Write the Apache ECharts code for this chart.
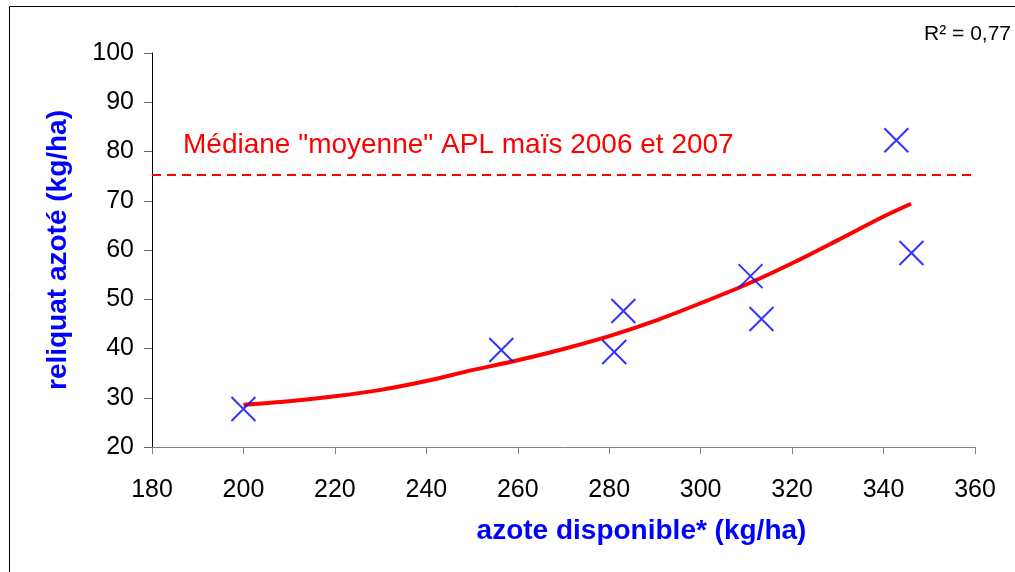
<!DOCTYPE html>
<html>
<head>
<meta charset="utf-8">
<script src="https://cdn.jsdelivr.net/npm/echarts@6/dist/echarts.min.js"></script>
<style>
  html, body { margin: 0; padding: 0; background: #fff; }
  #chart { width: 1015px; height: 572px; }
</style>
</head>
<body>
<div id="chart"></div>
<script>
  // mesures (azote disponible, reliquat)
  const azoteDisponible = [200, 256.4, 281.1, 283.1, 310.9, 313.3, 342.8, 346.1];
  const reliquat = [27.7, 39.7, 39.3, 47.6, 54.7, 46.0, 82.3, 59.4];

  // courbe de tendance
  const trendX = [200, 210, 220, 230, 240, 250, 260, 270, 280, 290, 300, 310, 320, 330, 340, 346];
  const trendY = [28.6, 29.3, 30.3, 31.6, 33.4, 35.6, 37.6, 39.9, 42.5, 45.6, 49.2, 53.0, 57.3, 62.0, 66.8, 69.4];

  const medianeAPL = 75.2;
  const medianeLabel = 'Médiane "moyenne" APL maïs 2006 et 2007';
  const r2Label = 'R² = 0,77';

  const chart = echarts.init(document.getElementById('chart'));
  window.addEventListener('resize', function () {
    chart.resize();
  });

  const font = 'Liberation Sans, Arial, sans-serif';

  const option = {
    animation: false,
    grid: { left: 152, right: 40, top: 53, bottom: 125 },
    xAxis: {
      type: 'value',
      min: 180,
      max: 360,
      interval: 20,
      name: 'azote disponible* (kg/ha)',
      nameLocation: 'middle',
      nameGap: 70,
      nameTextStyle: {
        color: '#0000ff', fontWeight: 'bold', fontSize: 28, fontFamily: font,
        padding: [0, 0, 0, 156]
      },
      axisLine: { lineStyle: { color: '#808080', width: 1 } },
      axisTick: { inside: false, length: 7, lineStyle: { color: '#808080' } },
      axisLabel: { color: '#000', fontSize: 25, fontFamily: font, margin: 31 },
      splitLine: { show: false }
    },
    yAxis: {
      type: 'value',
      min: 20,
      max: 100,
      interval: 10,
      name: 'reliquat azoté (kg/ha)',
      nameLocation: 'middle',
      nameGap: 80,
      nameTextStyle: { color: '#0000ff', fontWeight: 'bold', fontSize: 28, fontFamily: font },
      axisLine: { show: true, lineStyle: { color: '#000', width: 1 } },
      axisTick: { show: true, length: 8, lineStyle: { color: '#666' } },
      axisLabel: { color: '#000', fontSize: 25, fontFamily: font, margin: 18 },
      splitLine: { show: false }
    },
    graphic: [
      {
        type: 'rect',
        shape: { x: 9.5, y: 6.5, width: 1010, height: 570 },
        style: { fill: 'none', stroke: '#000', lineWidth: 1 },
        silent: true
      },
      {
        type: 'text',
        right: 4,
        top: 24,
        style: { text: r2Label, fill: '#000', font: '21px ' + font }
      },
      {
        type: 'text',
        left: 183,
        top: 131,
        style: { text: medianeLabel, fill: '#ff0000', font: '28px ' + font }
      }
    ],
    series: [
      {
        name: 'tendance',
        type: 'line',
        data: trendX.map((x, i) => [x, trendY[i]]),
        smooth: 0.3,
        showSymbol: false,
        lineStyle: { color: '#ff0000', width: 4 },
        z: 2,
        markLine: {
          silent: true,
          symbol: 'none',
          label: { show: false },
          lineStyle: { color: '#ff0000', type: [9, 6], width: 2 },
          data: [{ yAxis: medianeAPL }]
        }
      },
      {
        name: 'mesures',
        type: 'scatter',
        data: azoteDisponible.map((x, i) => [x, reliquat[i]]),
        symbol: 'path://M0,0L10,10M10,0L0,10',
        symbolSize: 24,
        itemStyle: { color: 'none', borderColor: '#0000ff', borderWidth: 2 },
        z: 3
      }
    ]
  };

  chart.setOption(option);
</script>
</body>
</html>
